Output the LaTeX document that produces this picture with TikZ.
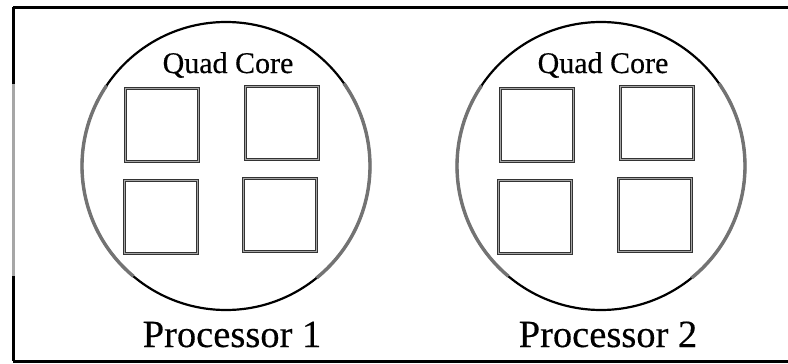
\documentclass[tikz,border=0pt]{standalone}
\usepackage{fontspec}
\setmainfont[FakeBold=0.4]{Liberation Serif}
\begin{document}
\begin{tikzpicture}[x=1pt,y=-1pt,
  chip/.style={circle, draw=black, line width=2.2, minimum size=288, inner sep=0, outer sep=0},
  core/.style={rectangle, draw=black!80, line width=1.2, double=black!35, double distance=1.2,
               minimum size=73, inner sep=0},
  greyarc/.style={draw=black!55, line width=3.4},
  frame/.style={draw=black, line width=3},
  corelbl/.style={font=\fontsize{30}{32}\selectfont, anchor=base, inner sep=0},
  proclbl/.style={font=\fontsize{38.5}{42}\selectfont, anchor=base, inner sep=0}]
\useasboundingbox (0,0) rectangle (788,364);
\clip (0,0) rectangle (788,364);
\fill[white] (0,0) rectangle (788,364);

% outer frame, running off the right side
\draw[frame] (13,7) -- (800,7);
\draw[frame] (13,361) -- (800,361);
\draw[frame] (13,7) -- (13,361);
\draw[draw=gray!70, line width=3] (13,84) -- (13,276);

% processor 1
\node[chip] (c1) at (226,166) {};
\draw[greyarc] (c1.146) arc[start angle=-146, end angle=-230, radius=144];
\draw[greyarc] (c1.35) arc[start angle=-35, end angle=51, radius=144];
\node[corelbl] (q1) at (228,73) {Quad Core};
\node[core] (a1) at (162,125) {};
\node[core] (b1) at (282,123) {};
\node[core] (d1) at (161,217) {};
\node[core] (e1) at (280,215) {};
\node[proclbl] (p1) at (232,347) {Processor 1};

% processor 2
\node[chip] (c2) at (601,166) {};
\draw[greyarc] (c2.146) arc[start angle=-146, end angle=-230, radius=144];
\draw[greyarc] (c2.35) arc[start angle=-35, end angle=51, radius=144];
\node[corelbl] (q2) at (603,73) {Quad Core};
\node[core] (a2) at (537,125) {};
\node[core] (b2) at (657,123) {};
\node[core] (d2) at (535,217) {};
\node[core] (e2) at (655,215) {};
\node[proclbl] (p2) at (608,347) {Processor 2};
\end{tikzpicture}
\end{document}
